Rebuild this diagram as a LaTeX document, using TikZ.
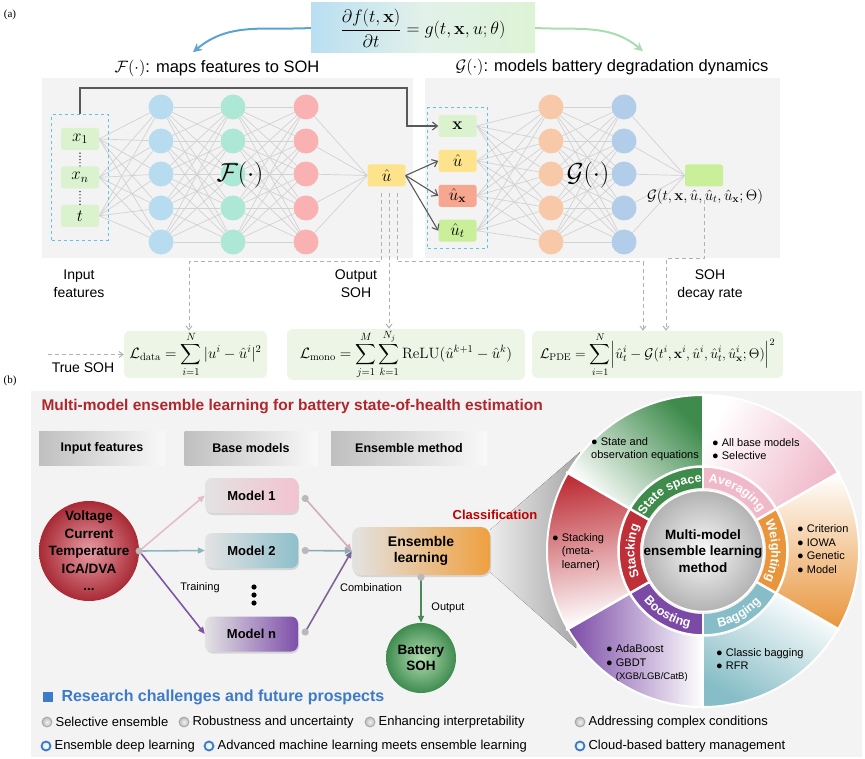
\RequirePackage{fix-cm}
\documentclass[tikz,border=0pt]{standalone}
\usepackage{amsmath}
\usepackage[no-math]{fontspec}
\setmainfont{Liberation Sans}
\newfontfamily\panelfont{Liberation Serif}
\usetikzlibrary{arrows.meta, positioning, fit, calc, shadows, decorations.text}
\pgfdeclarelayer{panel}
\pgfdeclarelayer{edges}
\pgfsetlayers{panel,edges,main}

\definecolor{panelgray}{HTML}{F3F3F3}
\definecolor{eqblue}{HTML}{B9DFF1}
\definecolor{eqmid}{HTML}{E2F1EA}
\definecolor{eqgreen}{HTML}{DDF3D5}
\definecolor{arrblue}{HTML}{5BA4D0}
\definecolor{arrgreen}{HTML}{A9DDB0}
\definecolor{boxgreen}{HTML}{DAF2CE}
\definecolor{dashcyan}{HTML}{5CC3EC}
\definecolor{nblue}{HTML}{B7DCF0}
\definecolor{ngreen}{HTML}{ADE7D5}
\definecolor{nred}{HTML}{F9B1B2}
\definecolor{norange}{HTML}{F8C9A9}
\definecolor{nsteel}{HTML}{B2CDE9}
\definecolor{uyellow}{HTML}{FDE38C}
\definecolor{usalmon}{HTML}{F7A690}
\definecolor{ulime}{HTML}{C9EF9A}
\definecolor{lossgreen}{HTML}{EDF5E6}
\definecolor{titlered}{HTML}{B0262D}
\definecolor{classred}{HTML}{C00000}
\definecolor{rblue}{HTML}{3B7BC9}
\definecolor{cstate}{HTML}{3E8B4C}
\definecolor{cavg}{HTML}{F0B9CA}
\definecolor{cweight}{HTML}{E8953B}
\definecolor{cbag}{HTML}{86BDC6}
\definecolor{cboost}{HTML}{7B4AA6}
\definecolor{cstack}{HTML}{BE2F37}
\definecolor{vred}{HTML}{A82A35}
\definecolor{vpink}{HTML}{E79CA5}
\definecolor{sohgreen}{HTML}{3F8B50}
\definecolor{sohlight}{HTML}{B2DDB0}
\definecolor{ensorange}{HTML}{EFA040}
\definecolor{m1pink}{HTML}{F2C3D0}
\definecolor{m2teal}{HTML}{8DBFCB}
\definecolor{mnpurple}{HTML}{7E4FAA}

\newcommand\ringfont{\bfseries\fontsize{12.5}{14}\selectfont}

\begin{document}
\begin{tikzpicture}[x=1pt, y=1pt, font=\fontsize{13}{15}\selectfont,
  neuron/.style   ={circle, minimum size=25pt, inner sep=0pt},
  ibox/.style     ={rectangle, rounded corners=2.5pt, minimum width=38pt, minimum height=22pt,
                    inner sep=0pt, font=\fontsize{17}{17}\selectfont},
  dashbox/.style  ={draw=dashcyan, dashed, line width=0.9pt},
  nnedge/.style   ={gray!35, line width=0.7pt},
  darrow/.style   ={-{Straight Barb[length=5pt,width=8pt]}, line width=1.1pt, black!65},
  dasharrow/.style={-{Straight Barb[length=4pt,width=6pt]}, gray!60, line width=1pt, dash pattern=on 4pt off 3pt},
  sublabel/.style ={align=center, font=\fontsize{14}{18}\selectfont},
  lossbox/.style  ={rectangle, rounded corners=6pt, fill=lossgreen, minimum height=47pt, inner sep=1pt,
                    font=\fontsize{15}{15}\selectfont},
  hdr/.style      ={rectangle, minimum height=34pt, left color=gray!50, right color=gray!5,
                    font=\bfseries\fontsize{12.5}{14}\selectfont},
  mbox/.style     ={rectangle, rounded corners=7pt, minimum width=93pt, minimum height=35pt, left color=gray!22,
                    font=\bfseries\fontsize{13}{15}\selectfont,
                    drop shadow={shadow xshift=1pt, shadow yshift=-2pt, opacity=0.25}},
  flow/.style     ={-{Triangle[length=7pt,width=6pt]}, line width=1.6pt},
  conn/.style     ={fill=gray!55},
  smalltxt/.style ={font=\fontsize{11}{13}\selectfont},
  bullets/.style  ={align=left, anchor=west, font=\fontsize{11}{13.5}\selectfont, inner sep=0pt},
  graydot/.style  ={circle, minimum size=10pt, inner sep=0pt, draw=gray!70, line width=0.8pt,
                    inner color=gray!10, outer color=gray!55},
  bluedot/.style  ={circle, minimum size=9pt, inner sep=0pt, draw=rblue, line width=1.8pt,
                    inner color=white, outer color=rblue!20},
  itemtext/.style ={font=\fontsize{13}{15}\selectfont, inner sep=0pt},
]
\useasboundingbox (0,0) rectangle (865,-759);

% ---------------- (a)
\node[font=\panelfont\fontsize{11}{11}\selectfont] (pa) at (10,-15) {(a)};
\node[rectangle, minimum width=224pt, minimum height=50pt, left color=eqblue, right color=eqgreen,
      middle color=eqmid, font=\fontsize{18}{18}\selectfont] (eq) at (423,-28)
  {$\dfrac{\partial f(t,\mathbf{x})}{\partial t}=g(t,\mathbf{x},u;\theta)$};
\node[font=\fontsize{16.5}{18}\selectfont] (ftitle) at (217,-68) {$\mathcal{F}(\cdot)$: maps features to SOH};
\node[font=\fontsize{16.5}{18}\selectfont] (gtitle) at (612,-67) {$\mathcal{G}(\cdot)$: models battery degradation dynamics};
\draw[-{Stealth[length=9pt,width=9pt]}, line width=2pt, arrblue] (eq.west) to[out=183, in=40] ([xshift=-24pt,yshift=4pt]ftitle.north);
\draw[-{Stealth[length=9pt,width=9pt]}, line width=2pt, arrgreen] (eq.east) to[out=-3, in=140] ([xshift=31pt,yshift=4pt]gtitle.north);

\begin{pgfonlayer}{panel}
  \fill[panelgray] (42,-78) rectangle (413,-258);
  \fill[panelgray] (425,-78) rectangle (780,-258);
  \fill[panelgray] (31,-391) rectangle (862,-757);
\end{pgfonlayer}

% F network
\node[ibox, fill=boxgreen] (in1) at (80,-139) {$x_1$};
\node[ibox, fill=boxgreen, below=16pt of in1] (in2) {$x_n$};
\node[ibox, fill=boxgreen, below=16pt of in2] (in3) {$t$};
\draw[line width=1.4pt, line cap=round, dash pattern=on 0pt off 3.2pt] ([yshift=-3pt]in1.south) -- (in2.north);
\draw[line width=1.4pt, line cap=round, dash pattern=on 0pt off 3.2pt] ([yshift=-3pt]in2.south) -- (in3.north);
\node[fit=(in1)(in3), dashbox, inner xsep=9pt, inner ysep=13pt] (fin) {};
\foreach \l/\x/\col in {1/161/nblue, 2/233/ngreen, 3/306/nred}
  \foreach \r/\y in {1/107, 2/141, 3/174, 4/208, 5/242}
    \node[neuron, fill=\col] (f\l\r) at (\x,-\y) {};
\node[ibox, fill=uyellow] (uhat) at (386.5,-175.5) {$\hat{u}$};
\node[font=\fontsize{26}{26}\selectfont] (flabel) at (240,-175) {$\mathcal{F}(\cdot)$};

% G network
\node[ibox, fill=boxgreen] (gi1) at (457.5,-126) {$\mathbf{x}$};
\node[ibox, fill=uyellow, below=12.5pt of gi1] (gi2) {$\hat{u}$};
\node[ibox, fill=usalmon, below=12.5pt of gi2] (gi3) {$\hat{u}_{\mathbf{x}}$};
\node[ibox, fill=ulime, below=12.5pt of gi3] (gi4) {$\hat{u}_t$};
\node[fit=(gi1)(gi4), dashbox, inner xsep=10.5pt, inner ysep=7pt] (gin) {};
\foreach \l/\x/\col in {a/551/norange, b/624/nsteel}
  \foreach \r/\y in {1/107, 2/141, 3/174, 4/208, 5/242}
    \node[neuron, fill=\col] (g\l\r) at (\x,-\y) {};
\node[ibox, fill=ulime] (gout) at (704,-175.5) {};
\node[font=\fontsize{26}{26}\selectfont] (glabel) at (588,-175) {$\mathcal{G}(\cdot)$};
\node[font=\fontsize{15}{15}\selectfont] (gform) at (705,-197)
  {$\mathcal{G}(t,\mathbf{x},\hat{u},\hat{u}_t,\hat{u}_{\mathbf{x}};\Theta)$};

\begin{pgfonlayer}{edges}
  \foreach \i in {1,2,3} \foreach \j in {1,...,5} \draw[nnedge] (in\i.east) -- (f1\j);
  \foreach \i in {1,...,5} \foreach \j in {1,...,5} {
    \draw[nnedge] (f1\i) -- (f2\j);
    \draw[nnedge] (f2\i) -- (f3\j);
    \draw[nnedge] (ga\i) -- (gb\j);
  }
  \foreach \i in {1,...,5} {
    \draw[nnedge] (f3\i) -- (uhat.west);
    \draw[nnedge] (gb\i) -- (gout.west);
  }
  \foreach \i in {1,...,4} \foreach \j in {1,...,5} \draw[nnedge] (gi\i.east) -- (ga\j);
\end{pgfonlayer}

\draw[darrow] (fin.north) |- (407,-88) |- (gi1.west);
\foreach \k in {2,3,4} \draw[darrow] (uhat.east) -- (gi\k.west);

% losses
\node[sublabel] (lin) at (79,-284) {Input\\features};
\node[sublabel] (lout) at (356,-284) {Output\\SOH};
\node[sublabel] (ldec) at (710,-285) {SOH\\decay rate};
\node[lossbox, minimum width=143pt] (ldata) at (195.5,-354.5)
  {$\mathcal{L}_{\mathrm{data}}=\displaystyle\sum_{i=1}^{N}|u^i-\hat{u}^i|^2$};
\node[lossbox, minimum width=238pt] (lmono) at (406,-354.5)
  {$\mathcal{L}_{\mathrm{mono}}=\displaystyle\sum_{j=1}^{M}\sum_{k=1}^{N_j}\mathrm{ReLU}(\hat{u}^{k+1}-\hat{u}^k)$};
\node[lossbox, minimum width=251pt, font=\fontsize{14}{14}\selectfont] (lpde) at (657.5,-354.5)
  {$\mathcal{L}_{\mathrm{PDE}}=\displaystyle\sum_{i=1}^{N}\Bigl|\hat{u}_t^i-\mathcal{G}(t^i,\mathbf{x}^i,\hat{u}^i,\hat{u}_t^i,\hat{u}_{\mathbf{x}}^i;\Theta)\Bigr|^2$};
\node[sublabel] (ltrue) at (83,-368) {True SOH};

\coordinate (ud1) at ([xshift=-5.5pt,yshift=-6pt]uhat.south);
\coordinate (ud2) at ([xshift=2.5pt,yshift=-6pt]uhat.south);
\coordinate (ud3) at ([xshift=10.5pt,yshift=-6pt]uhat.south);
\coordinate (gd) at ([yshift=-13pt]gout.south);
\coordinate (dj1) at (189,-262);
\coordinate (dj3) at (643,-262);
\coordinate (dj4) at (666,-259);
\coordinate (tsoh) at (48,-354.5);
\draw[dasharrow] (ud1) |- (dj1) -- (dj1 |- ldata.north);
\draw[dasharrow] (ud2) -- (ud2 |- lmono.north);
\draw[dasharrow] (ud3) |- (dj3) -- (dj3 |- lpde.north);
\draw[dasharrow] (gd) |- (dj4) -- (dj4 |- lpde.north);
\draw[dasharrow] (tsoh) -- (ldata.west);

% ---------------- (b)
\node[font=\panelfont\fontsize{11}{11}\selectfont] (pb) at (10,-381) {(b)};
\node[anchor=west, text=titlered, font=\bfseries\fontsize{15.5}{17}\selectfont] (btitle) at (38,-407)
  {Multi-model ensemble learning for battery state-of-health estimation};
\node[hdr, minimum width=126pt] (hin) at (102,-448) {Input features};
\node[hdr, minimum width=133pt] (hbase) at (251,-448) {Base models};
\node[hdr, minimum width=156pt] (hens) at (409,-448) {Ensemble method};

\node[circle, minimum size=100pt, inner color=vpink, outer color=vred] (vin) at (89,-551) {};
\node[align=center, font=\bfseries\fontsize{13.5}{17.5}\selectfont] (vtxt) at (vin) {Voltage\\Current\\Temperature\\ICA/DVA\\...};
\node[mbox, right color=m1pink] (m1) at (251.5,-495.5) {Model 1};
\node[mbox, right color=m2teal] (m2) at (251.5,-550.5) {Model 2};
\node[mbox, right color=mnpurple] (mn) at (251.5,-634) {Model n};
\foreach \d in {0,1,2} \fill (254,-587-8*\d) circle (2.6pt);
\node[mbox, minimum width=138pt, minimum height=48pt, rounded corners=9pt, right color=ensorange,
      align=center, font=\bfseries\fontsize{14}{16.5}\selectfont] (ens) at (421,-551) {Ensemble\\learning};
\node[circle, minimum size=70pt, inner color=sohlight, outer color=sohgreen] (soh) at (421,-658) {};
\node[align=center, font=\bfseries\fontsize{13.5}{16}\selectfont] (sohtxt) at (soh) {Battery\\SOH};

\coordinate (vdot) at (vin.east);
\coordinate (d1) at ([xshift=7pt,yshift=-3pt]m1.east);
\coordinate (d2) at ([xshift=7pt]m2.east);
\coordinate (dn) at ([xshift=7pt,yshift=2pt]mn.east);
\draw[flow, m1pink!90!gray] (vdot) -- (m1.west);
\draw[flow, m2teal!85!gray] (vdot) -- (m2.west);
\draw[flow, mnpurple!85!gray] (vdot) -- (mn.west);
\draw[flow, m1pink!70!gray] (d1) -- (ens.west);
\draw[flow, m2teal!70!gray] (d2) -- (ens.west);
\draw[flow, mnpurple!55!gray] (dn) -- (ens.west);
\draw[flow, sohgreen!80!gray] (ens.south) -- (soh.north);
\foreach \p in {vdot,d1,d2,dn} \fill[conn] (\p) circle (3.6pt);
\fill[conn] ([yshift=-2pt]ens.south) circle (3.6pt);
\node[smalltxt] (ltrain) at (200,-588) {Training};
\node[smalltxt] (lcomb) at (371,-588) {Combination};
\node[smalltxt] (loutp) at (448,-608) {Output};
\node[text=classred, font=\bfseries\fontsize{13}{15}\selectfont] (lclass) at (495,-515) {Classification};

\begin{pgfonlayer}{edges}
  \fill[left color=gray!15, right color=gray!70] ([yshift=-3pt]ens.north east) -- (580,-452)
    -- (576,-648) -- ([yshift=3pt]ens.south east) -- cycle;
\end{pgfonlayer}

% method wheel
\coordinate (C) at (703,-551);
\foreach \s/\col/\sa in {90/cstate/-45, 30/cavg/-120, -30/cweight/180, -90/cbag/150, -150/cboost/90, 150/cstack/10}
  \shade[top color=\col, bottom color=white, shading angle=\sa]
    ($(C)+(\s:156)$) arc[start angle=\s, end angle=\s+60, radius=156]
    -- ($(C)+(\s+60:84)$) arc[start angle=\s+60, end angle=\s, radius=84] -- cycle;
\foreach \s/\col in {90/cstate, 30/cavg, -30/cweight, -90/cbag, -150/cboost, 150/cstack}
  \fill[\col] ($(C)+(\s:84)$) arc[start angle=\s, end angle=\s+60, radius=84]
    -- ($(C)+(\s+60:63)$) arc[start angle=\s+60, end angle=\s, radius=63] -- cycle;
\foreach \s in {90,30,...,-210} \draw[white, line width=2.5pt] ($(C)+(\s:62)$) -- ($(C)+(\s:158)$);
\draw[white, line width=2.5pt] (C) circle[radius=84.5];
\draw[white, line width=2pt] (C) circle[radius=156];
\node[circle, minimum size=121pt, inner sep=0pt, inner color=gray!5, outer color=gray!60, draw=white, line width=1.5pt] (core) at (C) {};
\node[align=center, font=\bfseries\fontsize{13.5}{16.5}\selectfont] (coretxt) at (core) {Multi-model\\ensemble learning\\method};

\path[decorate, decoration={text along path, text align=center, text color=white, text={|\ringfont|State space}}]
  ($(C)+(160:68.5)$) arc[start angle=160, end angle=80, radius=68.5];
\path[decorate, decoration={text along path, text align=center, text color=white, text={|\ringfont|Averaging}}]
  ($(C)+(100:68.5)$) arc[start angle=100, end angle=20, radius=68.5];
\path[decorate, decoration={text along path, text align=center, text color=white, text={|\ringfont|Weighting}}]
  ($(C)+(40:68.5)$) arc[start angle=40, end angle=-40, radius=68.5];
\path[decorate, decoration={text along path, text align=center, text color=white, text={|\ringfont|Stacking}}]
  ($(C)+(220:68.5)$) arc[start angle=220, end angle=140, radius=68.5];
\path[decorate, decoration={text along path, text align=center, text color=white, text={|\ringfont|Boosting}}]
  ($(C)+(-160:77.5)$) arc[start angle=-160, end angle=-80, radius=77.5];
\path[decorate, decoration={text along path, text align=center, text color=white, text={|\ringfont|Bagging}}]
  ($(C)+(-100:77.5)$) arc[start angle=-100, end angle=-20, radius=77.5];

\node[bullets] (tstate) at (591,-449) {● State and\\observation equations};
\node[bullets] (tavg) at (712,-449) {● All base models\\● Selective};
\node[bullets] (tweight) at (797,-549) {● Criterion\\● IOWA\\● Genetic\\● Model};
\node[bullets] (tbag) at (716,-659) {● Classic bagging\\● RFR};
\node[bullets] (tboost) at (606,-663) {● AdaBoost\\● GBDT\\\phantom{● }{\fontsize{9.5}{11}\selectfont(XGB/LGB/CatB)}};
\node[bullets] (tstack) at (552,-552) {● Stacking\\\phantom{● }(meta-\\\phantom{● }learner)};

% research challenges
\fill[rblue] (43,-692) rectangle (53,-702);
\node[anchor=west, text=rblue, font=\bfseries\fontsize{16}{18}\selectfont] (rhead) at (58,-697)
  {Research challenges and future prospects};
\foreach \n/\x/\txt in {1/47/Selective ensemble, 2/184/Robustness and uncertainty,
                       3/370/Enhancing interpretability, 4/580/Addressing complex conditions} {
  \node[graydot] (ra\n) at (\x,-722) {};
  \node[itemtext, right=3pt of ra\n] (rat\n) {\txt};
}
\foreach \n/\x/\txt in {1/46/Ensemble deep learning, 2/209/Advanced machine learning meets ensemble learning,
                       3/580/Cloud-based battery management} {
  \node[bluedot] (rb\n) at (\x,-746) {};
  \node[itemtext, right=3pt of rb\n] (rbt\n) {\txt};
}
\end{tikzpicture}
\end{document}
